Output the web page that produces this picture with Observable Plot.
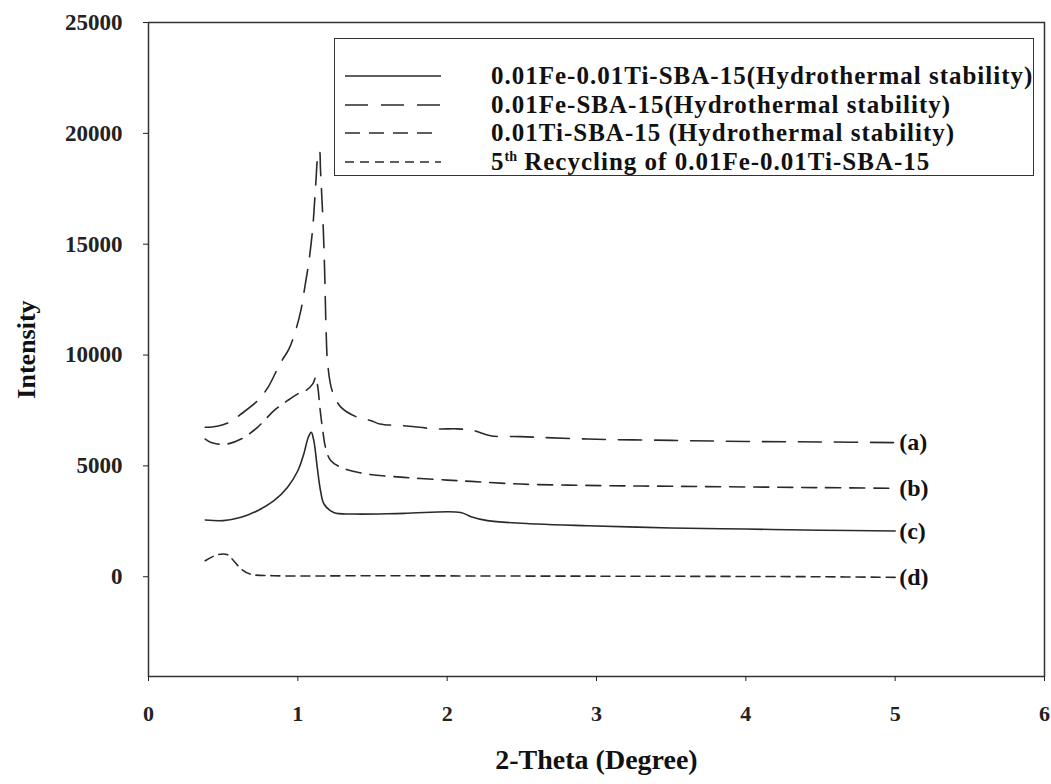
<!DOCTYPE html>
<html>
<head>
<meta charset="utf-8">
<script src="https://cdn.jsdelivr.net/npm/d3@7"></script>
<script src="https://cdn.jsdelivr.net/npm/@observablehq/plot@0.6"></script>
<style>
  html, body { margin: 0; padding: 0; background: #fff; }
  #wrap { position: relative; width: 1051px; height: 784px; }
  #legend {
    position: absolute; left: 334px; top: 38px; width: 700px; height: 138px;
    border: 1.5px solid #333; box-sizing: border-box; background: #fff;
    font-family: "Liberation Serif", serif; font-weight: bold; font-size: 25px; letter-spacing: 1px; color: #111;
  }
  .row { position: absolute; left: 0; height: 28px; display: flex; align-items: center; white-space: nowrap; }
  .row svg { margin-left: 10px; margin-right: 50px; }
  sup { font-size: 14px; vertical-align: 9px; letter-spacing: 0; }
</style>
</head>
<body>
<div id="wrap"></div>
<script>
// Series names
const seriesNames = [
  "0.01Fe-0.01Ti-SBA-15(Hydrothermal stability)",
  "0.01Fe-SBA-15(Hydrothermal stability)",
  "0.01Ti-SBA-15 (Hydrothermal stability)",
  "5th Recycling of 0.01Fe-0.01Ti-SBA-15"
];
const curveLabels = ["(a)", "(b)", "(c)", "(d)"];

// (a) 0.01Fe-SBA-15 (long dashes)
const xA = [0.38,0.46,0.54,0.62,0.73,0.80,0.88,0.94,0.985,1.02,1.05,1.075,1.10,1.12,1.136,1.145,1.152,1.17,1.18,1.19,1.20,1.23,1.29,1.40,1.49,1.55,1.71,1.93,2.07,2.18,2.29,2.49,2.94,3.5,4.0,4.5,5.0];
const yA = [6740,6790,6960,7340,7940,8540,9600,10270,11100,12000,13200,14260,15760,17720,19080,19200,18320,15760,13660,10950,9600,8390,7640,7190,7040,6890,6810,6670,6670,6590,6360,6320,6210,6150,6100,6080,6050];

// (b) 0.01Ti-SBA-15 (medium dashes)
const xB = [0.38,0.42,0.46,0.53,0.62,0.73,0.84,0.93,1.0,1.06,1.10,1.12,1.134,1.15,1.17,1.185,1.22,1.29,1.44,1.71,2.0,2.16,2.49,3.03,3.5,4.0,4.5,5.0];
const yB = [6210,6050,5990,5990,6210,6740,7490,7940,8250,8430,8700,9000,8540,7490,6440,5840,5240,4930,4660,4480,4360,4300,4180,4110,4080,4050,4020,3990];

// (c) 0.01Fe-0.01Ti-SBA-15 (solid)
const xC = [0.38,0.5,0.62,0.73,0.84,0.93,1.0,1.04,1.07,1.09,1.107,1.13,1.152,1.175,1.24,1.375,1.71,2.09,2.16,2.27,2.6,2.94,3.5,4.0,4.5,5.0];
const yC = [2560,2530,2680,2980,3430,4030,4780,5540,6290,6510,6140,4930,3880,3280,2900,2830,2860,2900,2710,2530,2380,2300,2200,2150,2100,2060];

// (d) 5th recycling (short dashes)
const xD = [0.38,0.46,0.53,0.57,0.62,0.68,0.84,1.5,2.5,3.5,4.5,5.0];
const yD = [720,990,990,720,350,120,45,45,30,20,0,-30];

const xTicks = [0,1,2,3,4,5,6];
const yTicks = [0,5000,10000,15000,20000,25000];

const dashes = ["none", "23,13", "15,9", "9,6"]; // solid, long, medium, short

const toRows = (xs, ys, s) => xs.map((x, i) => ({x, y: ys[i], s}));
const curves = [
  {xs: xA, ys: yA, name: seriesNames[1], label: curveLabels[0], dash: dashes[1]},
  {xs: xB, ys: yB, name: seriesNames[2], label: curveLabels[1], dash: dashes[2]},
  {xs: xC, ys: yC, name: seriesNames[0], label: curveLabels[2], dash: dashes[0]},
  {xs: xD, ys: yD, name: seriesNames[3], label: curveLabels[3], dash: dashes[3]}
];

const endLabels = curves.map(c => ({x: c.xs[c.xs.length-1], y: c.ys[c.ys.length-1], t: c.label}));

const marks = [];
curves.forEach(c => {
  marks.push(Plot.line(toRows(c.xs, c.ys, c.name), {x: "x", y: "y", stroke: "#2a2a2a", strokeWidth: 1.6, strokeDasharray: c.dash, curve: "catmull-rom"}));
});
marks.push(Plot.text(endLabels, {x: "x", y: "y", text: "t", textAnchor: "start", dx: 4, fontFamily: "Liberation Serif", fontWeight: "bold", fontSize: 24, fill: "#111"}));
marks.push(Plot.frame({stroke: "#333", strokeWidth: 1.5}));
marks.push(Plot.axisY({ticks: yTicks, tickSize: 5, tickPadding: 21, fontFamily: "Liberation Serif", fontWeight: "bold", fontSize: 23, label: null, tickFormat: d => String(d)}));
marks.push(Plot.axisX({ticks: xTicks, tickSize: 5, tickPadding: 24, fontFamily: "Liberation Serif", fontWeight: "bold", fontSize: 22, label: null, tickFormat: d => String(d)}));
marks.push(Plot.text(["2-Theta (Degree)"], {frameAnchor: "bottom", dy: 92, textAnchor: "middle", fontFamily: "Liberation Serif", fontWeight: "bold", fontSize: 28, fill: "#111"}));
marks.push(Plot.text(["Intensity"], {frameAnchor: "left", dx: -122, rotate: -90, textAnchor: "middle", fontFamily: "Liberation Serif", fontWeight: "bold", fontSize: 26, fill: "#111"}));

const chart = Plot.plot({
  width: 1051, height: 784,
  marginLeft: 148, marginRight: 7, marginTop: 22, marginBottom: 108,
  style: {background: "#fff", color: "#222", overflow: "visible"},
  x: {domain: [0, 6]},
  y: {domain: [-4500, 25000]},
  marks
});
const wrap = document.getElementById("wrap");
wrap.appendChild(chart);

// Legend (HTML overlay inside the plot frame)
const legend = document.createElement("div");
legend.id = "legend";
const legendOrder = [
  {name: seriesNames[0], dash: dashes[0]},
  {name: seriesNames[1], dash: dashes[1]},
  {name: seriesNames[2], dash: dashes[2]},
  {name: seriesNames[3], dash: dashes[3]}
];
legendOrder.forEach((e, i) => {
  const row = document.createElement("div");
  row.className = "row";
  row.style.top = (23 + i * 28.5) + "px";
  const svg = d3.create("svg").attr("width", 96).attr("height", 10);
  svg.append("line").attr("x1", 0).attr("x2", 96).attr("y1", 5).attr("y2", 5)
    .attr("stroke", "#2a2a2a").attr("stroke-width", 1.6)
    .attr("stroke-dasharray", e.dash === "none" ? null : e.dash);
  row.appendChild(svg.node());
  const span = document.createElement("span");
  if (e.name.startsWith("5th")) {
    span.innerHTML = "5<sup>th</sup>" + e.name.slice(3);
  } else {
    span.textContent = e.name;
  }
  row.appendChild(span);
  legend.appendChild(row);
});
wrap.appendChild(legend);
</script>
</body>
</html>
